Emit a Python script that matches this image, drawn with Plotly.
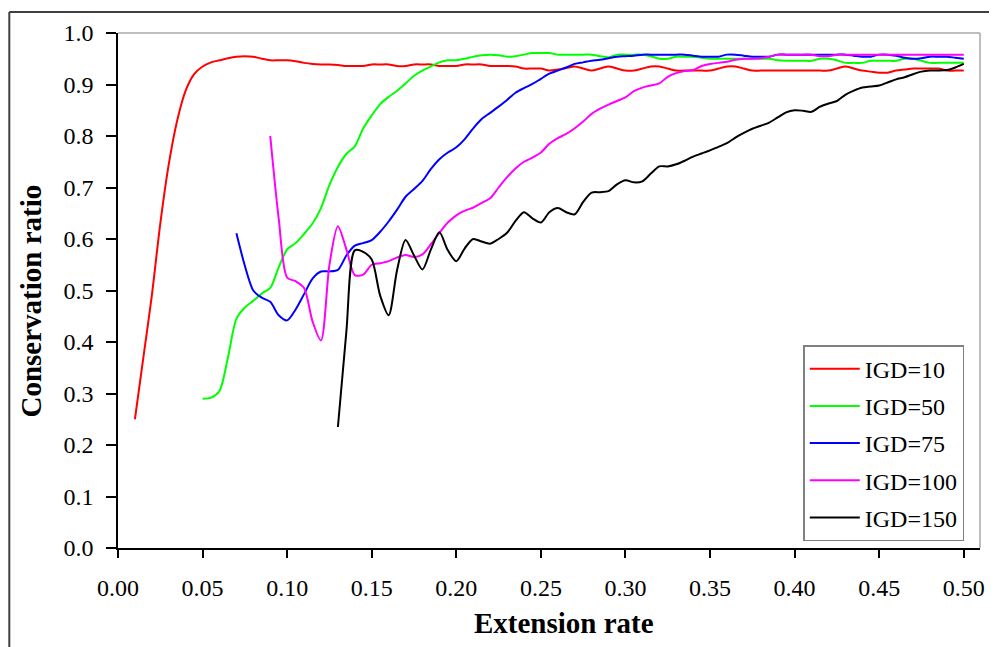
import plotly.graph_objects as go

# Shared x grid (extension rate)
EXTENSION_RATE = [
    0.010, 0.015, 0.020, 0.025, 0.030, 0.035, 0.040, 0.045, 0.050, 0.055,
    0.060, 0.065, 0.070, 0.075, 0.080, 0.085, 0.090, 0.095, 0.100, 0.105,
    0.110, 0.115, 0.120, 0.125, 0.130, 0.135, 0.140, 0.145, 0.150, 0.155,
    0.160, 0.165, 0.170, 0.175, 0.180, 0.185, 0.190, 0.195, 0.200, 0.205,
    0.210, 0.215, 0.220, 0.225, 0.230, 0.235, 0.240, 0.245, 0.250, 0.255,
    0.260, 0.265, 0.270, 0.275, 0.280, 0.285, 0.290, 0.295, 0.300, 0.305,
    0.310, 0.315, 0.320, 0.325, 0.330, 0.335, 0.340, 0.345, 0.350, 0.355,
    0.360, 0.365, 0.370, 0.375, 0.380, 0.385, 0.390, 0.395, 0.400, 0.405,
    0.410, 0.415, 0.420, 0.425, 0.430, 0.435, 0.440, 0.445, 0.450, 0.455,
    0.460, 0.465, 0.470, 0.475, 0.480, 0.485, 0.490, 0.495, 0.500,
]

# IGD=10 (from 0.010)
IGD10 = [
    0.25, 0.37, 0.49, 0.63, 0.745, 0.83, 0.888, 0.92, 0.935, 0.943,
    0.947, 0.951, 0.954, 0.955, 0.954, 0.95, 0.947, 0.947, 0.947, 0.945,
    0.942, 0.94, 0.939, 0.939, 0.938, 0.936, 0.936, 0.936, 0.939, 0.939,
    0.939, 0.936, 0.936, 0.939, 0.939, 0.939, 0.936, 0.936, 0.936, 0.939,
    0.939, 0.939, 0.936, 0.936, 0.936, 0.935, 0.931, 0.931, 0.931, 0.927,
    0.929, 0.932, 0.935, 0.931, 0.927, 0.931, 0.935, 0.931, 0.927, 0.927,
    0.931, 0.935, 0.935, 0.931, 0.927, 0.927, 0.927, 0.927, 0.927, 0.931,
    0.935, 0.935, 0.931, 0.927, 0.927, 0.927, 0.927, 0.927, 0.927, 0.927,
    0.927, 0.927, 0.927, 0.931, 0.935, 0.931, 0.927, 0.925, 0.923, 0.923,
    0.927, 0.929, 0.931, 0.931, 0.931, 0.931, 0.927, 0.927, 0.927,
]

# IGD=50 (from 0.050)
IGD50 = [
    0.29, 0.292, 0.305, 0.37, 0.445, 0.467, 0.48, 0.494, 0.505, 0.545,
    0.58, 0.592, 0.61, 0.63, 0.66, 0.705, 0.74, 0.765, 0.78, 0.815,
    0.84, 0.862, 0.876, 0.888, 0.902, 0.917, 0.927, 0.935, 0.943, 0.947,
    0.947, 0.95, 0.954, 0.957, 0.958, 0.957, 0.954, 0.955, 0.958, 0.961,
    0.961, 0.961, 0.958, 0.958, 0.958, 0.958, 0.958, 0.955, 0.953, 0.958,
    0.958, 0.958, 0.958, 0.955, 0.95, 0.95, 0.954, 0.954, 0.954, 0.952,
    0.95, 0.95, 0.95, 0.95, 0.95, 0.95, 0.95, 0.95, 0.947, 0.946,
    0.946, 0.946, 0.946, 0.95, 0.95, 0.947, 0.942, 0.942, 0.942, 0.946,
    0.946, 0.946, 0.946, 0.95, 0.95, 0.946, 0.942, 0.942, 0.942, 0.942,
    0.942,
]

# IGD=75 (from 0.070)
IGD75 = [
    0.611, 0.548, 0.50, 0.486, 0.478, 0.452, 0.442, 0.463, 0.493, 0.523,
    0.537, 0.537, 0.54, 0.568, 0.587, 0.592, 0.598, 0.614, 0.634, 0.657,
    0.682, 0.697, 0.713, 0.736, 0.755, 0.768, 0.778, 0.794, 0.815, 0.833,
    0.845, 0.857, 0.87, 0.884, 0.893, 0.901, 0.911, 0.921, 0.927, 0.933,
    0.94, 0.943, 0.946, 0.948, 0.951, 0.954, 0.955, 0.956, 0.958, 0.958,
    0.958, 0.958, 0.958, 0.958, 0.956, 0.954, 0.954, 0.954, 0.958, 0.958,
    0.956, 0.954, 0.954, 0.954, 0.958, 0.958, 0.958, 0.958, 0.958, 0.958,
    0.958, 0.958, 0.958, 0.956, 0.954, 0.954, 0.958, 0.958, 0.956, 0.952,
    0.95, 0.951, 0.954, 0.954, 0.954, 0.952, 0.95,
]

# IGD=100 (from 0.090)
IGD100 = [
    0.80, 0.64, 0.525, 0.518, 0.505, 0.44, 0.403, 0.55, 0.625, 0.58,
    0.53, 0.531, 0.55, 0.553, 0.557, 0.564, 0.569, 0.565, 0.57, 0.59,
    0.612, 0.632, 0.646, 0.655, 0.661, 0.67, 0.679, 0.70, 0.72, 0.737,
    0.75, 0.758, 0.768, 0.785, 0.796, 0.804, 0.815, 0.828, 0.843, 0.853,
    0.861, 0.868, 0.875, 0.887, 0.894, 0.898, 0.902, 0.915, 0.922, 0.926,
    0.928, 0.936, 0.94, 0.942, 0.944, 0.948, 0.95, 0.95, 0.951, 0.954,
    0.958, 0.958, 0.958, 0.958, 0.958, 0.955, 0.955, 0.958, 0.958, 0.958,
    0.958, 0.958, 0.958, 0.958, 0.958, 0.958, 0.958, 0.958, 0.958, 0.958,
    0.958, 0.958, 0.958,
]

# IGD=150 (from 0.130)
IGD150 = [
    0.235, 0.42, 0.578, 0.575, 0.56, 0.49, 0.452, 0.54, 0.598, 0.568,
    0.541, 0.58, 0.613, 0.578, 0.557, 0.582, 0.6, 0.595, 0.591, 0.60,
    0.612, 0.635, 0.652, 0.64, 0.632, 0.652, 0.66, 0.652, 0.648, 0.672,
    0.69, 0.691, 0.693, 0.706, 0.714, 0.71, 0.712, 0.727, 0.741, 0.741,
    0.745, 0.752, 0.76, 0.766, 0.772, 0.779, 0.786, 0.797, 0.806, 0.814,
    0.82, 0.826, 0.836, 0.846, 0.85, 0.849, 0.847, 0.857, 0.863, 0.868,
    0.88, 0.888, 0.894, 0.896, 0.898, 0.904, 0.91, 0.914, 0.92, 0.925,
    0.927, 0.927, 0.928, 0.933, 0.94,
]

SERIES_NAMES = ["IGD=10", "IGD=50", "IGD=75", "IGD=100", "IGD=150"]
SERIES_VALUES = [IGD10, IGD50, IGD75, IGD100, IGD150]
SERIES_COLORS = ["#FF0000", "#00FF00", "#0000FF", "#FF00FF", "#000000"]

X_TICKS = [0.00, 0.05, 0.10, 0.15, 0.20, 0.25, 0.30, 0.35, 0.40, 0.45, 0.50]
Y_TICKS = [0.0, 0.1, 0.2, 0.3, 0.4, 0.5, 0.6, 0.7, 0.8, 0.9, 1.0]

FONT = "Liberation Serif, Times New Roman, serif"

fig = go.Figure()
for name, vals, col in zip(SERIES_NAMES, SERIES_VALUES, SERIES_COLORS):
    xs = EXTENSION_RATE[len(EXTENSION_RATE) - len(vals):]
    fig.add_trace(go.Scatter(
        x=xs, y=vals, mode="lines", name=name, legendgroup=name,
        line=dict(color=col, width=2, shape="spline", smoothing=0.8),
    ))

# The page adds an 8px body margin, so the figure is 8px smaller.
# Plot area on the page: x 118 -> 984 px, y 30 -> 548 px.
fig.update_layout(
    width=989, height=639,
    margin=dict(l=110, r=13, t=22, b=99),
    paper_bgcolor="white", plot_bgcolor="white",
    font=dict(family=FONT, size=24, color="black"),
    showlegend=True,
    legend=dict(
        x=0.795, y=0.394, xanchor="left", yanchor="top",
        bgcolor="white", bordercolor="#808080", borderwidth=1.5,
        font=dict(family=FONT, size=24, color="black"),
        itemwidth=50, tracegroupgap=3,
    ),
    xaxis=dict(
        range=[0, 0.5096], tickvals=X_TICKS, tickformat=".2f",
        showline=True, linecolor="black", linewidth=1.5,
        ticks="outside", ticklen=8, tickwidth=1.5, tickcolor="black",
        ticklabelstandoff=9,
        showgrid=False, zeroline=False,
        tickfont=dict(family=FONT, size=24, color="black"),
    ),
    yaxis=dict(
        range=[0, 1.0], tickvals=Y_TICKS, tickformat=".1f",
        showline=True, linecolor="black", linewidth=1.5,
        ticks="outside", ticklen=10, tickwidth=1.5, tickcolor="black",
        ticklabelstandoff=8,
        showgrid=False, zeroline=False,
        tickfont=dict(family=FONT, size=24, color="black"),
    ),
    annotations=[
        dict(text="<b>Extension rate</b>", xref="paper", yref="paper",
             x=0.5177, y=-0.1448, xanchor="center", yanchor="middle",
             showarrow=False, font=dict(family=FONT, size=29, color="black")),
        dict(text="<b>Conservation ratio</b>", xref="paper", yref="paper",
             x=-0.1008, y=0.4788, xanchor="center", yanchor="middle",
             textangle=-90, showarrow=False,
             font=dict(family=FONT, size=29, color="black")),
    ],
    shapes=[
        # plot-area border (top & right, gray)
        dict(type="line", xref="paper", yref="paper", x0=0, x1=1, y0=1, y1=1,
             line=dict(color="#A8A8A8", width=1.5)),
        dict(type="line", xref="paper", yref="paper", x0=1, x1=1, y0=0, y1=1,
             line=dict(color="#A8A8A8", width=1.5)),
        # outer chart border (top & left, dark gray)
        dict(type="line", xref="paper", yref="paper", x0=-0.1261, x1=1.05,
             y0=1.0409, y1=1.0409, line=dict(color="#404040", width=2)),
        dict(type="line", xref="paper", yref="paper", x0=-0.1261, x1=-0.1261,
             y0=-0.25, y1=1.0409, line=dict(color="#404040", width=2)),
    ],
)

fig.write_html("out.html")
